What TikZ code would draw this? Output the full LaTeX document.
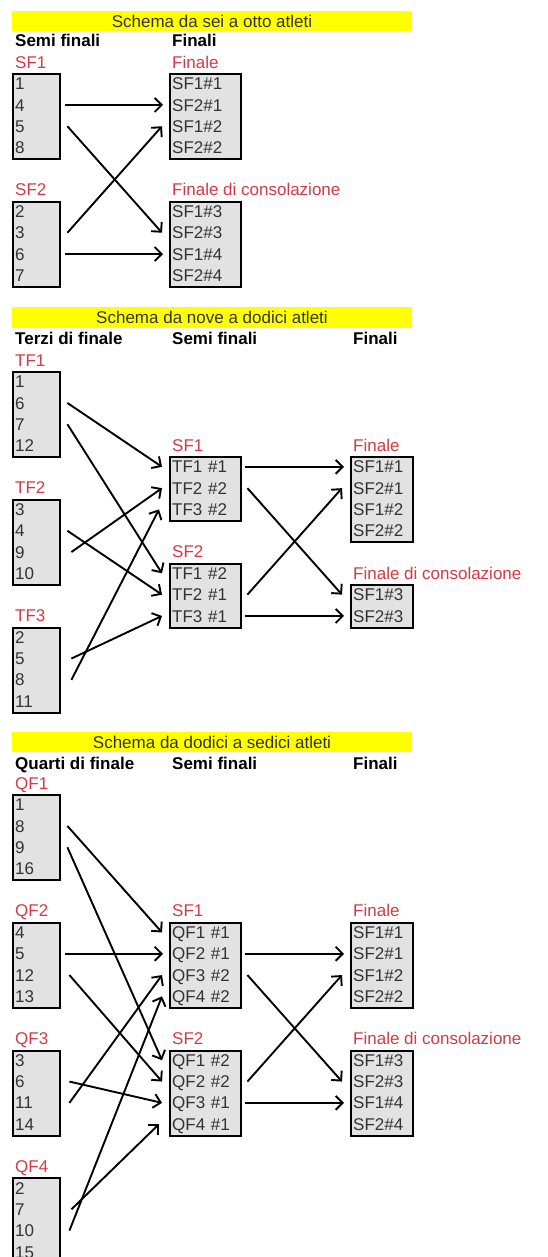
\documentclass[tikz,border=0pt]{standalone}
\usepackage{fontspec}
\setmainfont{Liberation Sans}
\usetikzlibrary{arrows.meta}
\definecolor{rosso}{RGB}{212,58,70}
\definecolor{giallo}{RGB}{255,255,0}
\definecolor{grigio}{RGB}{226,226,226}
% #1 nome, #2 x, #3 y (bordo alto), #4 larghezza, #5 righe, #6 etichetta, #7 testo
\newcommand{\gruppo}[7]{%
  \node[etic] (#1-lab) at (#2+1,#3-11) {#6};
  \node[casella,minimum width=#4,minimum height=#5*21.3] (#1) at (#2,#3) {};
  \foreach \t [count=\i] in {#7}
    \node[riga,text width=#4-6] (#1-\i) at ([xshift=1pt,yshift=-(\i-0.5)*21.3pt]#1.north west) {\t};
}
\begin{document}
\begin{tikzpicture}[x=1pt,y=-1pt]
  \tikzset{every node/.style={font=\fontsize{17pt}{20pt}\selectfont},
    casella/.style={draw,line width=2pt,fill=grigio,anchor=north west,inner sep=0pt},
    riga/.style={anchor=west,inner xsep=2pt,inner ysep=0pt,text height=12.2pt,text depth=0pt,align=left,text=black!80},
    etic/.style={anchor=west,inner sep=2pt,text height=12.2pt,text depth=0pt,text=rosso},
    testa/.style={anchor=west,inner sep=2pt,font=\fontsize{17pt}{20pt}\selectfont\bfseries,text height=12.2pt,text depth=0pt},
    barra/.style={fill=giallo,minimum width=400pt,minimum height=20.5pt,inner sep=0pt,text=black!80},
    freccia/.style={->,>={Straight Barb[length=7pt,width=14pt]},line width=1.9pt}}
  \useasboundingbox (0,0) rectangle (548,1257);

  % da sei a otto
  \node[barra] (tit1) at (212,21) {Schema da sei a otto atleti};
  \node[testa] (h11) at (13,40) {Semi finali};
  \node[testa] (h12) at (170,40) {Finali};
  \gruppo{asf1}{12}{73}{47}{4}{SF1}{1,4,5,8}
  \gruppo{asf2}{12}{200.8}{47}{4}{SF2}{2,3,6,7}
  \gruppo{afin}{169}{73}{71}{4}{Finale}{SF1\#1,SF2\#1,SF1\#2,SF2\#2}
  \gruppo{acons}{169}{200.8}{71}{4}{Finale di consolazione}{SF1\#3,SF2\#3,SF1\#4,SF2\#4}
  \draw[freccia] ([xshift=7pt]asf1-2.east) -- ([xshift=-7pt]afin-2.west);
  \draw[freccia] ([xshift=9pt]asf1-3.east) -- ([xshift=-8pt]acons-2.west);
  \draw[freccia] ([xshift=9pt]asf2-2.east) -- ([xshift=-8pt]afin-3.west);
  \draw[freccia] ([xshift=7pt]asf2-3.east) -- ([xshift=-7pt]acons-3.west);

  % da nove a dodici
  \node[barra] (tit2) at (212,317.5) {Schema da nove a dodici atleti};
  \node[testa] (h21) at (13,338) {Terzi di finale};
  \node[testa] (h22) at (170,338) {Semi finali};
  \node[testa] (h23) at (351,338) {Finali};
  \gruppo{btf1}{12}{371}{47}{4}{TF1}{1,6,7,12}
  \gruppo{btf2}{12}{498.8}{47}{4}{TF2}{3,4,9,10}
  \gruppo{btf3}{12}{626.6}{47}{4}{TF3}{2,5,8,11}
  \gruppo{bsf1}{169}{456.2}{71}{3}{SF1}{TF1 \#1,TF2 \#2,TF3 \#2}
  \gruppo{bsf2}{169}{562.7}{71}{3}{SF2}{TF1 \#2,TF2 \#1,TF3 \#1}
  \gruppo{bfin}{350}{456.2}{62}{4}{Finale}{SF1\#1,SF2\#1,SF1\#2,SF2\#2}
  \gruppo{bcons}{350}{584}{62}{2}{Finale di consolazione}{SF1\#3,SF2\#3}
  \draw[freccia] ([xshift=9pt]btf1-2.east) -- ([xshift=-8pt]bsf1-1.west);
  \draw[freccia] ([xshift=9pt]btf1-3.east) -- ([xshift=-8pt]bsf2-1.west);
  \draw[freccia] ([xshift=9pt]btf2-2.east) -- ([xshift=-8pt]bsf2-2.west);
  \draw[freccia] ([xshift=13pt]btf2-3.east) -- ([xshift=-8pt]bsf1-2.west);
  \draw[freccia] ([xshift=13pt]btf3-2.east) -- ([xshift=-8pt]bsf2-3.west);
  \draw[freccia] ([xshift=13pt]btf3-3.east) -- ([xshift=-11pt]bsf1-3.west);
  \draw[freccia] ([xshift=6pt]bsf1-1.east) -- ([xshift=-7pt]bfin-1.west);
  \draw[freccia] ([xshift=8pt]bsf1-2.east) -- ([xshift=-9pt]bcons-1.west);
  \draw[freccia] ([xshift=8pt]bsf2-2.east) -- ([xshift=-9pt]bfin-2.west);
  \draw[freccia] ([xshift=6pt]bsf2-3.east) -- ([xshift=-7pt]bcons-2.west);

  % da dodici a sedici
  \node[barra] (tit3) at (212,742) {Schema da dodici a sedici atleti};
  \node[testa] (h31) at (13,763) {Quarti di finale};
  \node[testa] (h32) at (170,763) {Semi finali};
  \node[testa] (h33) at (351,763) {Finali};
  \gruppo{cqf1}{12}{794}{47}{4}{QF1}{1,8,9,16}
  \gruppo{cqf2}{12}{921.8}{47}{4}{QF2}{4,5,12,13}
  \gruppo{cqf3}{12}{1049.6}{47}{4}{QF3}{3,6,11,14}
  \gruppo{cqf4}{12}{1177.4}{47}{4}{QF4}{2,7,10,15}
  \gruppo{csf1}{169}{921.8}{71}{4}{SF1}{QF1 \#1,QF2 \#1,QF3 \#2,QF4 \#2}
  \gruppo{csf2}{169}{1049.6}{71}{4}{SF2}{QF1 \#2,QF2 \#2,QF3 \#1,QF4 \#1}
  \gruppo{cfin}{350}{921.8}{62}{4}{Finale}{SF1\#1,SF2\#1,SF1\#2,SF2\#2}
  \gruppo{ccons}{350}{1049.6}{62}{4}{Finale di consolazione}{SF1\#3,SF2\#3,SF1\#4,SF2\#4}
  \draw[freccia] ([xshift=9pt]cqf1-2.east) -- ([xshift=-8pt]csf1-1.west);
  \draw[freccia] ([xshift=9pt]cqf1-3.east) -- ([xshift=-8pt]csf2-1.west);
  \draw[freccia] ([xshift=7pt]cqf2-2.east) -- ([xshift=-7pt]csf1-2.west);
  \draw[freccia] ([xshift=11pt]cqf2-3.east) -- ([xshift=-8pt]csf2-2.west);
  \draw[freccia] ([xshift=11pt]cqf3-2.east) -- ([xshift=-8pt]csf2-3.west);
  \draw[freccia] ([xshift=11pt]cqf3-3.east) -- ([xshift=-8pt]csf1-3.west);
  \draw[freccia] ([xshift=13pt]cqf4-2.east) -- ([xshift=-11pt]csf2-4.west);
  \draw[freccia] ([xshift=11pt]cqf4-3.east) -- ([xshift=-8pt]csf1-4.west);
  \draw[freccia] ([xshift=6pt]csf1-2.east) -- ([xshift=-7pt]cfin-2.west);
  \draw[freccia] ([xshift=8pt]csf1-3.east) -- ([xshift=-9pt]ccons-2.west);
  \draw[freccia] ([xshift=8pt]csf2-2.east) -- ([xshift=-9pt]cfin-3.west);
  \draw[freccia] ([xshift=6pt]csf2-3.east) -- ([xshift=-7pt]ccons-3.west);
\end{tikzpicture}
\end{document}
